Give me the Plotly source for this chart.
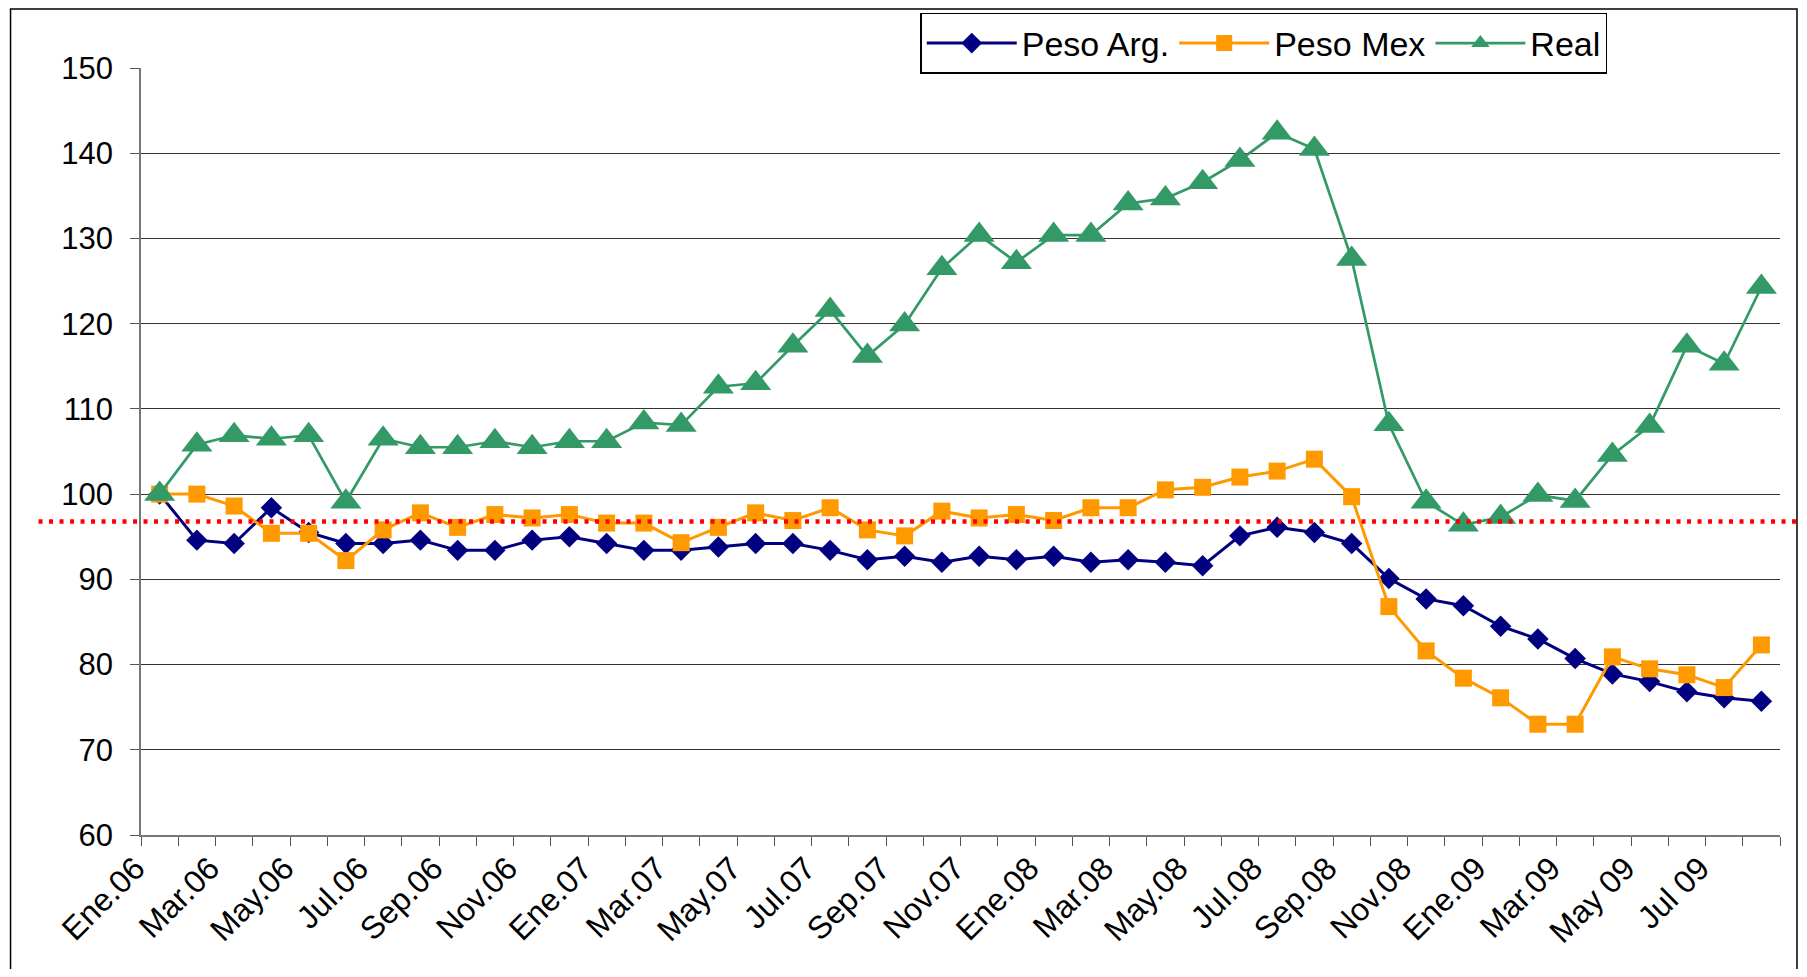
import plotly.graph_objects as go

months = ["Ene", "Feb", "Mar", "Abr", "May", "Jun", "Jul", "Ago", "Sep", "Oct", "Nov", "Dic"]
categories = []
for yr in ["06", "07", "08", "09"]:
    for m in months:
        categories.append(f"{m}.{yr}")
categories = categories[:44]  # Ene.06 .. Ago.09

tick_labels = ["Ene.06", "", "Mar.06", "", "May.06", "", "Jul.06", "", "Sep.06", "", "Nov.06", "",
               "Ene.07", "", "Mar.07", "", "May.07", "", "Jul.07", "", "Sep.07", "", "Nov.07", "",
               "Ene.08", "", "Mar.08", "", "May.08", "", "Jul.08", "", "Sep.08", "", "Nov.08", "",
               "Ene.09", "", "Mar.09", "", "May 09", "", "Jul 09", ""]

peso_arg = [100, 94.6, 94.2, 98.4, 95.5, 94.2, 94.2, 94.6, 93.4, 93.4, 94.6, 95.0,
            94.2, 93.4, 93.4, 93.8, 94.2, 94.2, 93.4, 92.3, 92.7, 92.0, 92.7, 92.3,
            92.7, 92.0, 92.3, 92.0, 91.6, 95.1, 96.1, 95.5, 94.2, 90.1, 87.7, 86.9,
            84.5, 83.0, 80.7, 78.9, 78.0, 76.8, 76.1, 75.7]
peso_mex = [100, 100, 98.6, 95.4, 95.4, 92.2, 95.8, 97.8, 96.1, 97.6, 97.2, 97.6,
            96.6, 96.6, 94.3, 96.1, 97.8, 96.9, 98.4, 95.8, 95.1, 98.0, 97.2, 97.6,
            96.9, 98.4, 98.4, 100.5, 100.8, 102.0, 102.7, 104.1, 99.7, 86.8, 81.6, 78.4,
            76.1, 73.0, 73.0, 80.9, 79.5, 78.8, 77.3, 82.3]
real = [100, 105.8, 106.9, 106.5, 106.9, 99.1, 106.5, 105.5, 105.5, 106.2, 105.5, 106.2,
        106.2, 108.4, 108.1, 112.6, 113.0, 117.4, 121.6, 116.2, 119.9, 126.5, 130.4, 127.2,
        130.4, 130.4, 134.1, 134.7, 136.6, 139.2, 142.4, 140.5, 127.6, 108.2, 99.1, 96.4,
        97.3, 99.9, 99.2, 104.6, 108.0, 117.4, 115.3, 124.3]
reference_level = 96.8

FONT = "Liberation Sans, Arial, sans-serif"

fig = go.Figure()
fig.add_trace(go.Scatter(x=categories, y=peso_arg, name="Peso Arg.", mode="lines+markers",
                         line=dict(color="#000080", width=3),
                         marker=dict(symbol="diamond", size=16.5, color="#000080")))
fig.add_trace(go.Scatter(x=categories, y=peso_mex, name="Peso Mex", mode="lines+markers",
                         line=dict(color="#FF9900", width=3),
                         marker=dict(symbol="square", size=17, color="#FF9900")))
fig.add_trace(go.Scatter(x=categories, y=real, name="Real", mode="lines+markers",
                         line=dict(color="#339966", width=2.7),
                         marker=dict(symbol="triangle-up", size=27, color="#339966")))

# page body has an 8px margin: figure spans 1791x961 starting at (8, 8)
OFF = 8
FW, FH = 1807 - 2 * OFF, 977 - 2 * OFF
L, R, T, B = 140.5 - OFF, 1780 - OFF, 68 - OFF, 835.5 - OFF
W, H = R - L, B - T

def px(xpix):
    return (xpix - OFF - L) / W

def py(ypix):
    return (B - (ypix - OFF)) / H

fig.add_shape(type="line", xref="paper", yref="y", x0=px(38), x1=px(1799),
              y0=reference_level, y1=reference_level,
              line=dict(color="#FF0000", width=4.5, dash="4px,6.5px"), layer="above")
fig.add_shape(type="rect", xref="paper", yref="paper", x0=px(10), x1=px(1797),
              y0=py(1000), y1=py(9), line=dict(color="#000000", width=1.5),
              fillcolor="rgba(0,0,0,0)", layer="below")

fig.update_layout(
    autosize=True,
    margin=dict(l=L, r=FW - R, t=T, b=FH - B, pad=0, autoexpand=False),
    paper_bgcolor="white", plot_bgcolor="white",
    font=dict(family=FONT, size=32, color="black"),
    showlegend=True,
    legend=dict(orientation="h", x=px(920), y=py(74), xanchor="left", yanchor="bottom",
                bgcolor="white", bordercolor="black", borderwidth=1.5,
                font=dict(size=34, family=FONT), itemwidth=90, tracegroupgap=0),
    xaxis=dict(type="category", categoryorder="array", categoryarray=categories,
               tickmode="array", tickvals=categories, ticktext=tick_labels,
               tickson="boundaries", ticks="outside", ticklen=9, tickcolor="#555",
               tickangle=-45, showgrid=False, showline=True, linecolor="#777", linewidth=1.5,
               range=[-0.5, 43.5], tickfont=dict(size=32, family=FONT), zeroline=False,
               ticklabelshift=-24, ticklabelstandoff=0, automargin=False),
    yaxis=dict(range=[60, 150], dtick=10, tick0=60, showgrid=True, gridcolor="#333",
               gridwidth=1, ticks="outside", ticklen=9, tickcolor="#555",
               showline=True, linecolor="#777", linewidth=1.5, zeroline=False,
               tickfont=dict(size=31, family=FONT), ticklabelstandoff=11, automargin=False),
)

fig.write_html("out.html")
